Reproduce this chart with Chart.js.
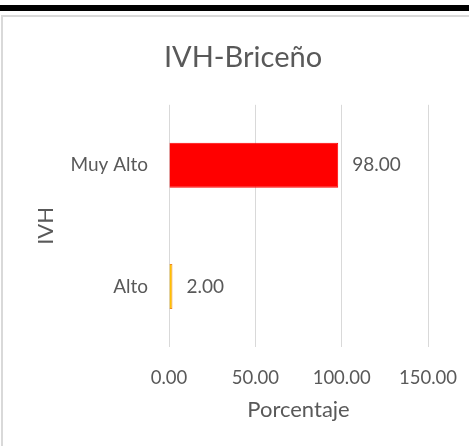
<!DOCTYPE html>
<html>
<head>
<meta charset="utf-8">
<script src="https://cdn.jsdelivr.net/npm/chart.js"></script>
<style>
    html, body { margin: 0; padding: 0; background: #fff; overflow: hidden; width: 469px; height: 446px; }
    .barra { position: absolute; left: 0; top: 5px; width: 469px; height: 6px; background: #000; }
    .marco { position: absolute; left: 1px; top: 15px; width: 500px; height: 460px; border-top: 2px solid #d9d9d9; border-left: 2px solid #d9d9d9; }
    #grafico { position: absolute; left: 0; top: 0; }
</style>
</head>
<body>
<div class="barra"></div>
<div class="marco"></div>
<canvas id="grafico" width="486" height="446"></canvas>
<script>
const categorias = ['Muy Alto', 'Alto'];
const porcentajes = [98.00, 2.00];
const ticksX = [0, 50, 100, 150];
const coresFundo = ['#FF0000', '#FFC000'];
const coresBorda = ['#FF0000', '#F08A24'];

const corTexto = '#595959';
const fonte = 'Lato';

// rotulos de dados ao lado da barra
const rotulosDados = {
    id: 'rotulosDados',
    afterDatasetsDraw(chart) {
        const ctx = chart.ctx;
        const meta = chart.getDatasetMeta(0);
        ctx.save();
        ctx.font = `19px ${fonte}`;
        ctx.fillStyle = corTexto;
        ctx.textAlign = 'left';
        ctx.textBaseline = 'middle';
        meta.data.forEach((bar, i) => {
            ctx.fillText(porcentajes[i].toFixed(2), bar.x + 14, bar.y);
        });
        ctx.restore();
    }
};

const ctx = document.getElementById('grafico');
new Chart(ctx, {
    type: 'bar',
    data: {
        labels: categorias,
        datasets: [{
            label: 'IVH',
            data: porcentajes,
            backgroundColor: coresFundo,
            borderColor: coresBorda,
            borderWidth: 1,
            categoryPercentage: 1,
            barPercentage: 0.372
        }]
    },
    options: {
        indexAxis: 'y',
        responsive: false,
        animation: false,
        layout: { padding: 0 },
        plugins: {
            legend: { display: false },
            tooltip: { enabled: false },
            title: {
                display: true,
                text: 'IVH-Briceño',
                color: corTexto,
                font: { family: fonte, size: 29, weight: 'normal' },
                padding: { top: 40, bottom: 30 }
            }
        },
        scales: {
            x: {
                min: ticksX[0],
                max: ticksX[ticksX.length - 1],
                afterBuildTicks: scale => { scale.ticks = ticksX.map(v => ({ value: v })); },
                afterFit: scale => { scale.height = 99; },
                grid: { color: '#d9d9d9', lineWidth: 1, drawTicks: false },
                border: { display: false },
                ticks: {
                    color: corTexto,
                    padding: 20,
                    font: { family: fonte, size: 18.5 },
                    callback: v => Number(v).toFixed(2)
                },
                title: {
                    display: true,
                    text: 'Porcentaje',
                    color: corTexto,
                    font: { family: fonte, size: 22 },
                    padding: { top: 0, bottom: 23 }
                }
            },
            y: {
                afterFit: scale => { scale.width = 169; },
                grid: { display: false, drawTicks: false },
                border: { display: false },
                ticks: {
                    color: corTexto,
                    padding: 21,
                    font: { family: fonte, size: 19 }
                },
                title: {
                    display: true,
                    text: 'IVH',
                    color: corTexto,
                    font: { family: fonte, size: 22 },
                    padding: { top: 33, bottom: 0 }
                }
            },
            // eixo vazio so para reservar o espaco da direita
            y2: {
                type: 'linear',
                position: 'right',
                display: true,
                afterFit: scale => { scale.width = 58; },
                grid: { display: false, drawTicks: false },
                border: { display: false },
                ticks: { display: false }
            }
        }
    },
    plugins: [rotulosDados]
});
</script>
</body>
</html>
